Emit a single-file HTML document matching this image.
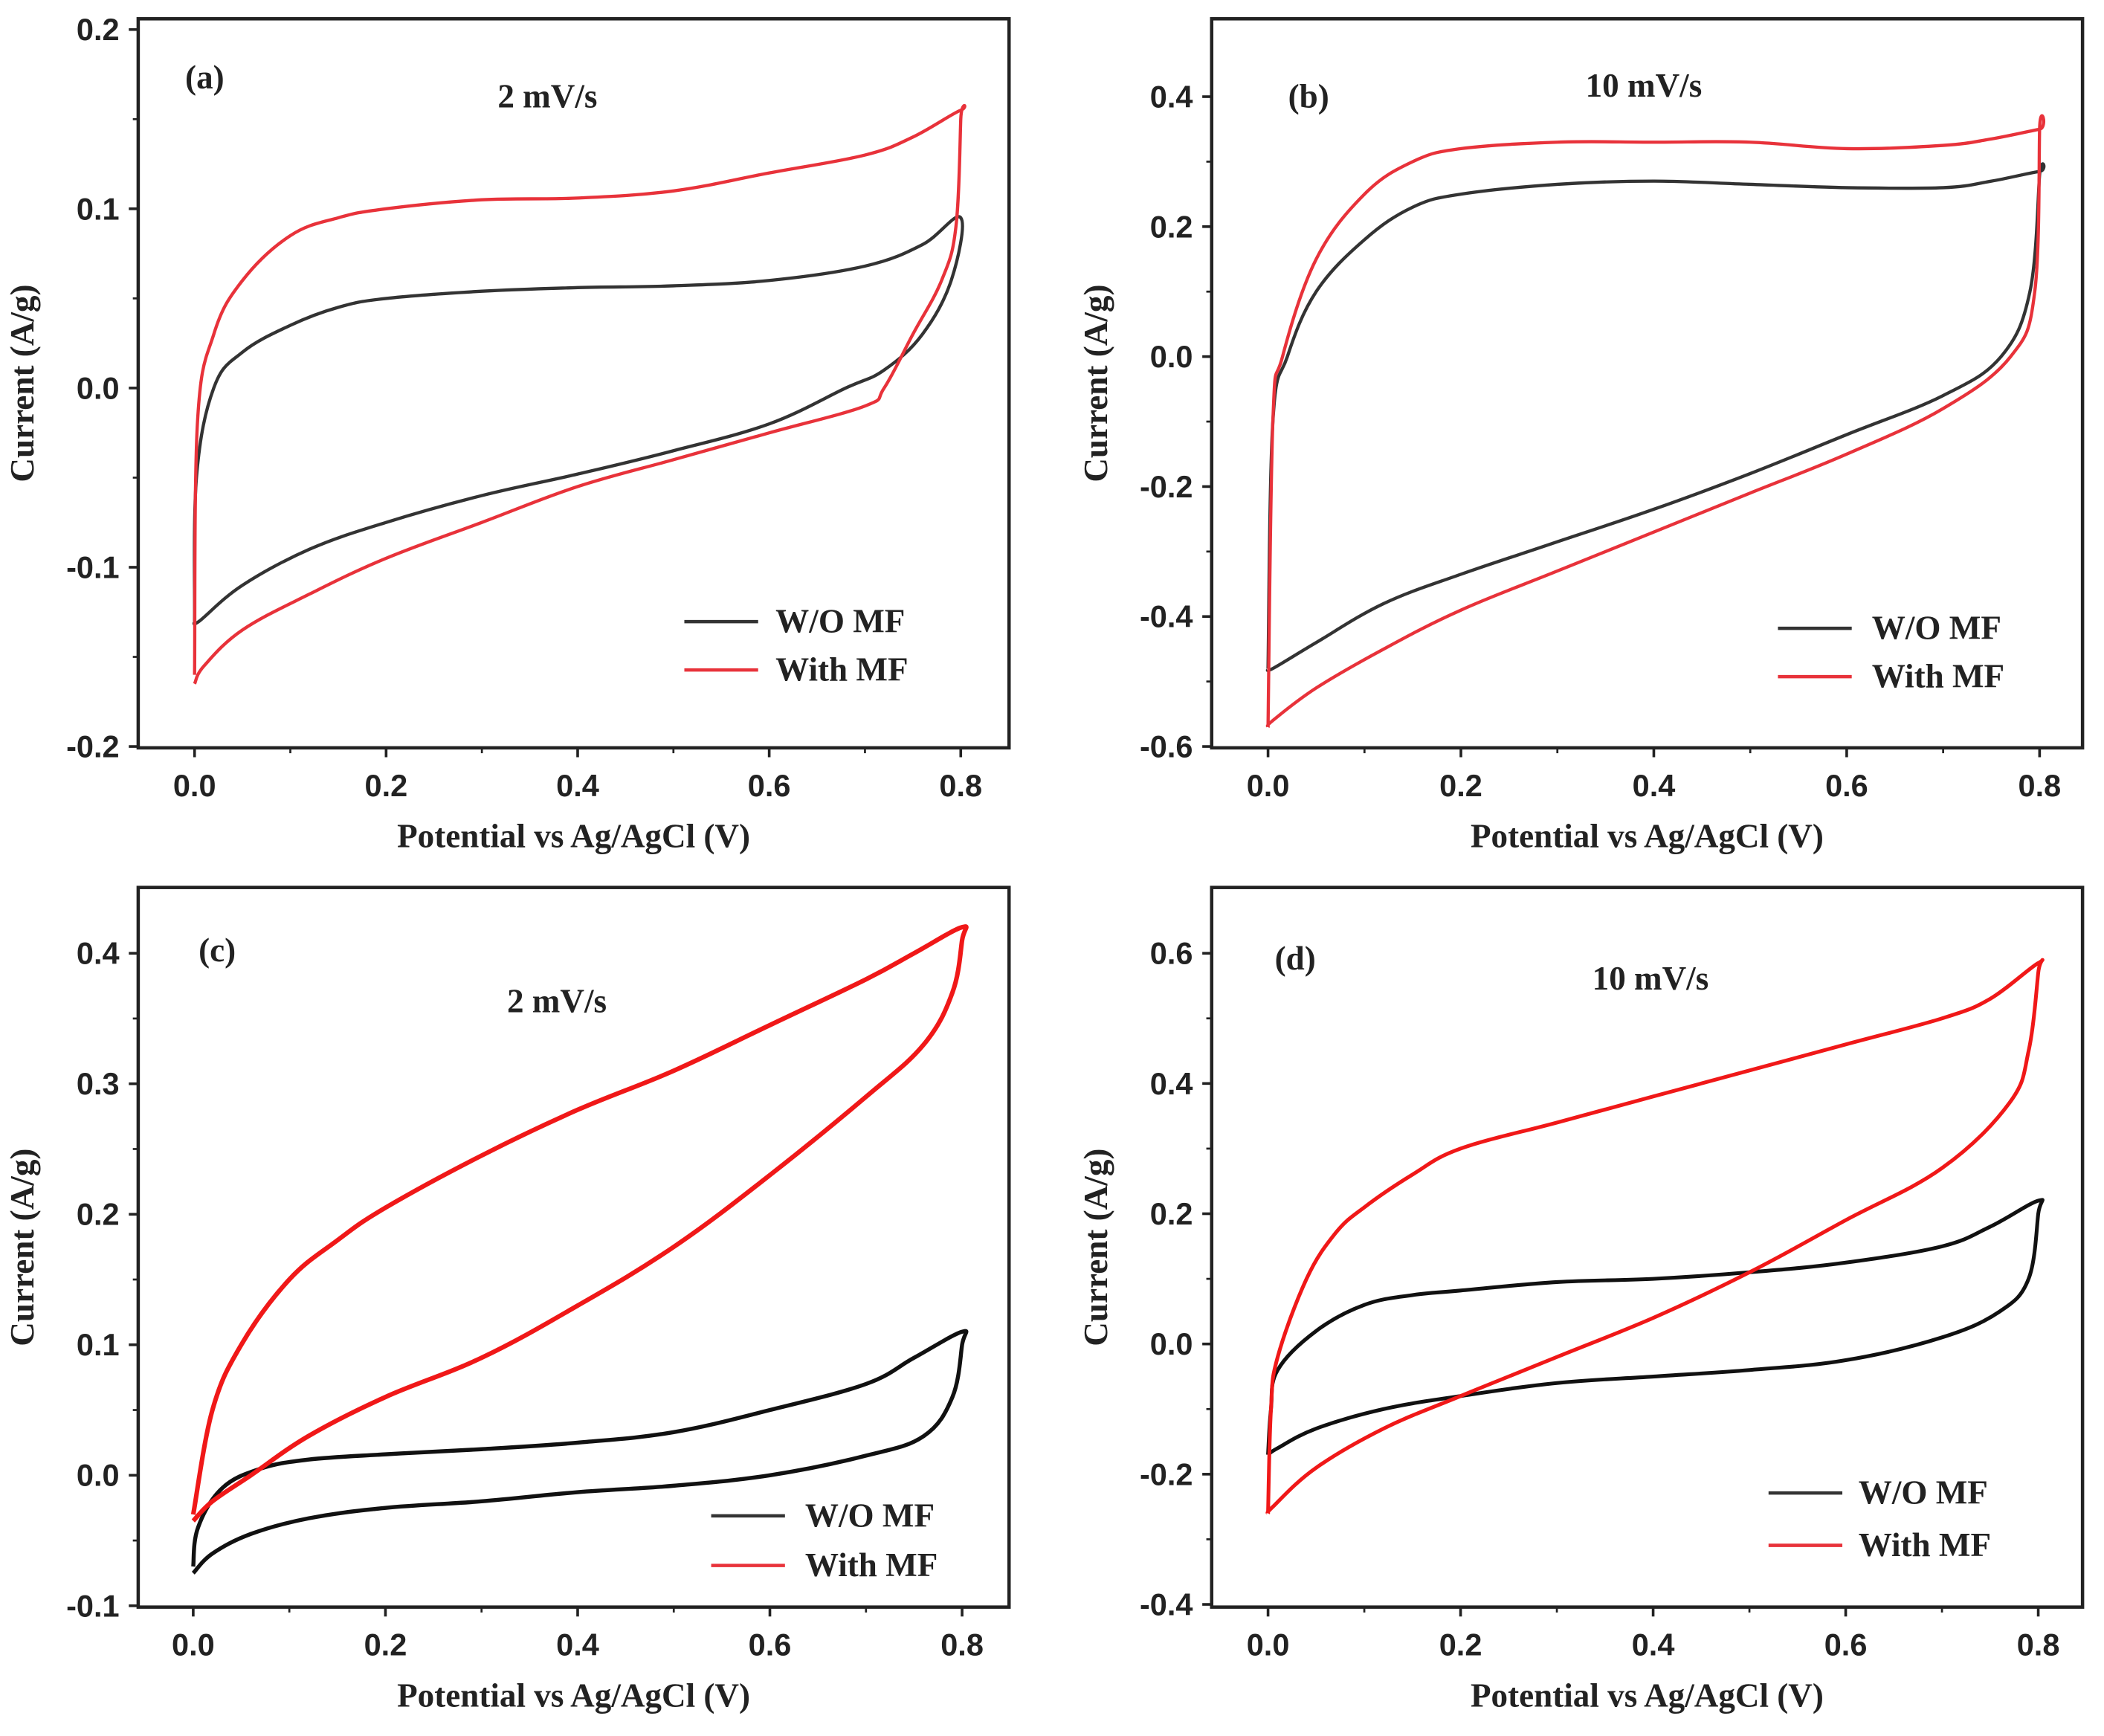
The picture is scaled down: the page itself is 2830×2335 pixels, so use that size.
<!DOCTYPE html>
<html><head><meta charset="utf-8"><style>
html,body{margin:0;padding:0;background:#fff;}
svg{display:block;}
.tk{font-family:"Liberation Sans",sans-serif;font-weight:bold;font-size:23px;fill:#222;}
.tt{font-family:"Liberation Serif",serif;font-weight:bold;font-size:25px;fill:#222;}
</style></head><body>
<svg id="fig" width="2830" height="2335" viewBox="0 0 1568 1293" preserveAspectRatio="none" xmlns="http://www.w3.org/2000/svg"></svg>
<script>
// ---- data (potential V, current A/g) ----
const xTicks = [0, 0.2, 0.4, 0.6, 0.8];
const xTickLabels = ["0.0", "0.2", "0.4", "0.6", "0.8"];

const aYTicks = [-0.2, -0.1, 0, 0.1, 0.2];
const aYLabels = ["-0.2", "-0.1", "0.0", "0.1", "0.2"];
const aBlackX = [0,0.002,0.02,0.05,0.1,0.15,0.2,0.3,0.4,0.5,0.6,0.7,0.76,0.8, 0.79,0.76,0.72,0.68,0.6,0.5,0.4,0.3,0.2,0.12,0.05,0.005,0];
const aBlackY = [-0.13,-0.05,0,0.02,0.035,0.045,0.05,0.054,0.056,0.057,0.06,0.068,0.08,0.095, 0.06,0.03,0.01,0,-0.02,-0.035,-0.048,-0.06,-0.075,-0.09,-0.11,-0.13,-0.13];
const aRedX = [0,0.003,0.02,0.05,0.1,0.15,0.2,0.3,0.4,0.5,0.6,0.7,0.75,0.8, 0.8,0.795,0.78,0.75,0.72,0.7,0.6,0.5,0.4,0.3,0.2,0.12,0.05,0.01,0];
const aRedY = [-0.16,-0.02,0.03,0.06,0.085,0.095,0.1,0.105,0.106,0.11,0.12,0.13,0.14,0.155, 0.15,0.09,0.06,0.03,0,-0.01,-0.025,-0.04,-0.055,-0.075,-0.095,-0.115,-0.135,-0.155,-0.165];

const bYTicks = [-0.6, -0.4, -0.2, 0, 0.2, 0.4];
const bYLabels = ["-0.6", "-0.4", "-0.2", "0.0", "0.2", "0.4"];
const bBlackX = [0,0.005,0.02,0.05,0.1,0.15,0.2,0.3,0.4,0.5,0.6,0.7,0.75,0.8, 0.8,0.79,0.76,0.7,0.6,0.5,0.4,0.3,0.2,0.12,0.05,0.005,0];
const bBlackY = [-0.48,-0.1,0,0.1,0.18,0.23,0.25,0.265,0.27,0.265,0.26,0.26,0.27,0.285, 0.28,0.1,0,-0.06,-0.12,-0.18,-0.235,-0.285,-0.335,-0.38,-0.44,-0.48,-0.48];
const bRedX = [0,0.005,0.015,0.05,0.1,0.15,0.2,0.3,0.4,0.5,0.6,0.7,0.75,0.8, 0.8,0.795,0.77,0.7,0.6,0.5,0.4,0.3,0.2,0.12,0.05,0.005,0];
const bRedY = [-0.57,-0.1,0,0.15,0.25,0.3,0.32,0.33,0.33,0.33,0.32,0.325,0.335,0.35, 0.35,0.1,0,-0.08,-0.15,-0.21,-0.27,-0.33,-0.39,-0.45,-0.51,-0.56,-0.57];

const cYTicks = [-0.1, 0, 0.1, 0.2, 0.3, 0.4];
const cYLabels = ["-0.1", "0.0", "0.1", "0.2", "0.3", "0.4"];
const cBlackX = [0,0.005,0.03,0.07,0.12,0.2,0.3,0.4,0.5,0.6,0.7,0.75,0.8, 0.8,0.79,0.76,0.7,0.6,0.5,0.4,0.3,0.2,0.12,0.06,0.02,0];
const cBlackY = [-0.07,-0.04,-0.01,0.005,0.012,0.016,0.02,0.025,0.033,0.05,0.07,0.09,0.11, 0.1,0.06,0.03,0.015,0,-0.008,-0.013,-0.02,-0.025,-0.033,-0.045,-0.06,-0.075];
const cRedX = [0,0.02,0.05,0.1,0.15,0.2,0.3,0.4,0.5,0.6,0.7,0.75,0.8, 0.8,0.79,0.76,0.7,0.6,0.5,0.4,0.3,0.2,0.12,0.06,0.02,0];
const cRedY = [-0.03,0.05,0.1,0.15,0.18,0.205,0.245,0.28,0.31,0.345,0.38,0.4,0.42, 0.41,0.37,0.33,0.29,0.23,0.175,0.13,0.09,0.06,0.03,0,-0.02,-0.035];

const dYTicks = [-0.4, -0.2, 0, 0.2, 0.4, 0.6];
const dYLabels = ["-0.4", "-0.2", "0.0", "0.2", "0.4", "0.6"];
const dBlackX = [0,0.003,0.01,0.05,0.1,0.15,0.2,0.3,0.4,0.5,0.6,0.7,0.75,0.8, 0.8,0.79,0.76,0.7,0.6,0.5,0.4,0.3,0.2,0.12,0.05,0.01,0];
const dBlackY = [-0.17,-0.1,-0.04,0.02,0.06,0.075,0.082,0.095,0.1,0.11,0.125,0.15,0.18,0.22, 0.2,0.1,0.05,0.01,-0.025,-0.04,-0.05,-0.06,-0.08,-0.1,-0.13,-0.16,-0.17];
const dRedX = [0,0.003,0.01,0.04,0.07,0.1,0.15,0.2,0.3,0.4,0.5,0.6,0.7,0.75,0.8, 0.8,0.79,0.77,0.7,0.6,0.5,0.4,0.3,0.2,0.12,0.05,0.005,0];
const dRedY = [-0.26,-0.1,-0.02,0.1,0.17,0.21,0.26,0.3,0.34,0.38,0.42,0.46,0.5,0.53,0.585, 0.57,0.45,0.37,0.27,0.19,0.11,0.04,-0.02,-0.08,-0.13,-0.19,-0.25,-0.26];

const NS = "http://www.w3.org/2000/svg";
const svg = document.getElementById("fig");
function mk(tag, attrs, parent){const e=document.createElementNS(NS,tag);for(const k in attrs)e.setAttribute(k,attrs[k]);(parent||svg).appendChild(e);return e;}

function smoothPath(pts){
  let d="M"+pts[0][0].toFixed(1)+","+pts[0][1].toFixed(1);
  for(let i=0;i<pts.length-1;i++){
    const p0=pts[Math.max(0,i-1)],p1=pts[i],p2=pts[i+1],p3=pts[Math.min(pts.length-1,i+2)];
    const t=0.18;
    const c1=[p1[0]+(p2[0]-p0[0])*t,p1[1]+(p2[1]-p0[1])*t];
    const c2=[p2[0]-(p3[0]-p1[0])*t,p2[1]-(p3[1]-p1[1])*t];
    d+=" C"+c1[0].toFixed(1)+","+c1[1].toFixed(1)+" "+c2[0].toFixed(1)+","+c2[1].toFixed(1)+" "+p2[0].toFixed(1)+","+p2[1].toFixed(1);
  }
  return d;
}

function panel(cfg){
  const g = mk("g",{});
  
  
  const sx = v => cfg.x0 + (v - 0) / 0.8 * (cfg.x8 - cfg.x0);
  const sy = v => cfg.yA + (v - cfg.vA) / (cfg.vB - cfg.vA) * (cfg.yB - cfg.yA);
  const fr = mk("rect",{x:cfg.L,y:cfg.T,width:cfg.R-cfg.L,height:cfg.B-cfg.T,fill:"none",stroke:"#222","stroke-width":2.5},g);
  
  
  xTicks.forEach((v,i)=>{
    const X=sx(v);
    mk("line",{x1:X,x2:X,y1:cfg.B,y2:cfg.B+7,stroke:"#222","stroke-width":2},g);
    if(i<xTicks.length-1) mk("line",{x1:sx(v+0.1),x2:sx(v+0.1),y1:cfg.B,y2:cfg.B+4,stroke:"#222","stroke-width":1.5},g);
    const t=mk("text",{x:X,y:cfg.B+36,"text-anchor":"middle",class:"tk"},g);
    t.textContent=xTickLabels[i];
    
    
  });
  cfg.yt.forEach((v,i)=>{
    const Y=sy(v);
    mk("line",{x1:cfg.L-7,x2:cfg.L,y1:Y,y2:Y,stroke:"#222","stroke-width":2},g);
    if(i<cfg.yt.length-1){const m=sy((v+cfg.yt[i+1])/2);mk("line",{x1:cfg.L-4,x2:cfg.L,y1:m,y2:m,stroke:"#222","stroke-width":1.5},g);}
    const t=mk("text",{x:cfg.L-14,y:Y+8,"text-anchor":"end",class:"tk"},g);
    t.textContent=cfg.yl[i];
    
    
  });
  cfg.series.forEach(s=>{
    const pts = s.xs.map((v,i)=>[sx(v),sy(s.ys[i])]);
    const p=mk("path",{d:smoothPath(pts),fill:"none",stroke:s.c,"stroke-width":s.w||2.4,"stroke-linejoin":"round"},g);
    
    
  });
  [["W/O MF","#333",cfg.lg[2]],["With MF","#e8323a",cfg.lg[3]]].forEach((e,i)=>{
    const lg=mk("g",{},g);
    
    
    mk("line",{x1:cfg.lg[0],x2:cfg.lg[0]+55,y1:e[2],y2:e[2],stroke:e[1],"stroke-width":2.5},lg);
    const t=mk("text",{x:cfg.lg[1],y:e[2]+8,class:"tt"},lg);t.textContent=e[0];
  });
  const pl=mk("text",{x:cfg.pl[0],y:cfg.pl[1],class:"tt","font-size":"21"},g);pl.textContent="("+cfg.id+")";
  
  
  const rt=mk("text",{x:cfg.rt[0],y:cfg.rt[1],class:"tt","text-anchor":"middle"},g);rt.textContent=cfg.rate;
  
  
  const xt=mk("text",{x:(cfg.L+cfg.R)/2,y:cfg.B+74,class:"tt","text-anchor":"middle"},g);xt.textContent="Potential vs Ag/AgCl (V)";
  
  
  const yc=(cfg.T+cfg.B)/2;
  const yt=mk("text",{x:cfg.L-78,y:yc,class:"tt","text-anchor":"middle",transform:"rotate(-90 "+(cfg.L-78)+" "+yc+")"},g);yt.textContent="Current (A/g)";
  
  
}

panel({id:"a",L:103,R:752,T:14,B:557,x0:145,x8:716,yA:556,vA:-0.2,yB:22,vB:0.2,yt:aYTicks,yl:aYLabels,
  series:[{n:"series-a-wo-mf",c:"#333",xs:aBlackX,ys:aBlackY},{n:"series-a-with-mf",c:"#e8323a",xs:aRedX,ys:aRedY}],
  lg:[510,578,463,499],pl:[138,66],rt:[408,80],rate:"2 mV/s"});
panel({id:"b",L:903,R:1552,T:14,B:557,x0:945,x8:1520,yA:556,vA:-0.6,yB:72,vB:0.4,yt:bYTicks,yl:bYLabels,
  series:[{n:"series-b-wo-mf",c:"#333",xs:bBlackX,ys:bBlackY},{n:"series-b-with-mf",c:"#e8323a",xs:bRedX,ys:bRedY}],
  lg:[1325,1395,468,504],pl:[960,80],rt:[1225,72],rate:"10 mV/s"});
panel({id:"c",L:103,R:752,T:661,B:1197,x0:144,x8:717,yA:1196,vA:-0.1,yB:710,vB:0.4,yt:cYTicks,yl:cYLabels,
  series:[{n:"series-c-wo-mf",c:"#111",xs:cBlackX,ys:cBlackY,w:3},{n:"series-c-with-mf",c:"#f01818",xs:cRedX,ys:cRedY,w:3.4}],
  lg:[530,600,1129,1166],pl:[148,716],rt:[415,754],rate:"2 mV/s"});
panel({id:"d",L:903,R:1552,T:661,B:1197,x0:945,x8:1519,yA:1195,vA:-0.4,yB:710,vB:0.6,yt:dYTicks,yl:dYLabels,
  series:[{n:"series-d-wo-mf",c:"#111",xs:dBlackX,ys:dBlackY,w:2.8},{n:"series-d-with-mf",c:"#f01818",xs:dRedX,ys:dRedY,w:2.8}],
  lg:[1318,1385,1112,1151],pl:[950,722],rt:[1230,737],rate:"10 mV/s"});
</script>
</body></html>
